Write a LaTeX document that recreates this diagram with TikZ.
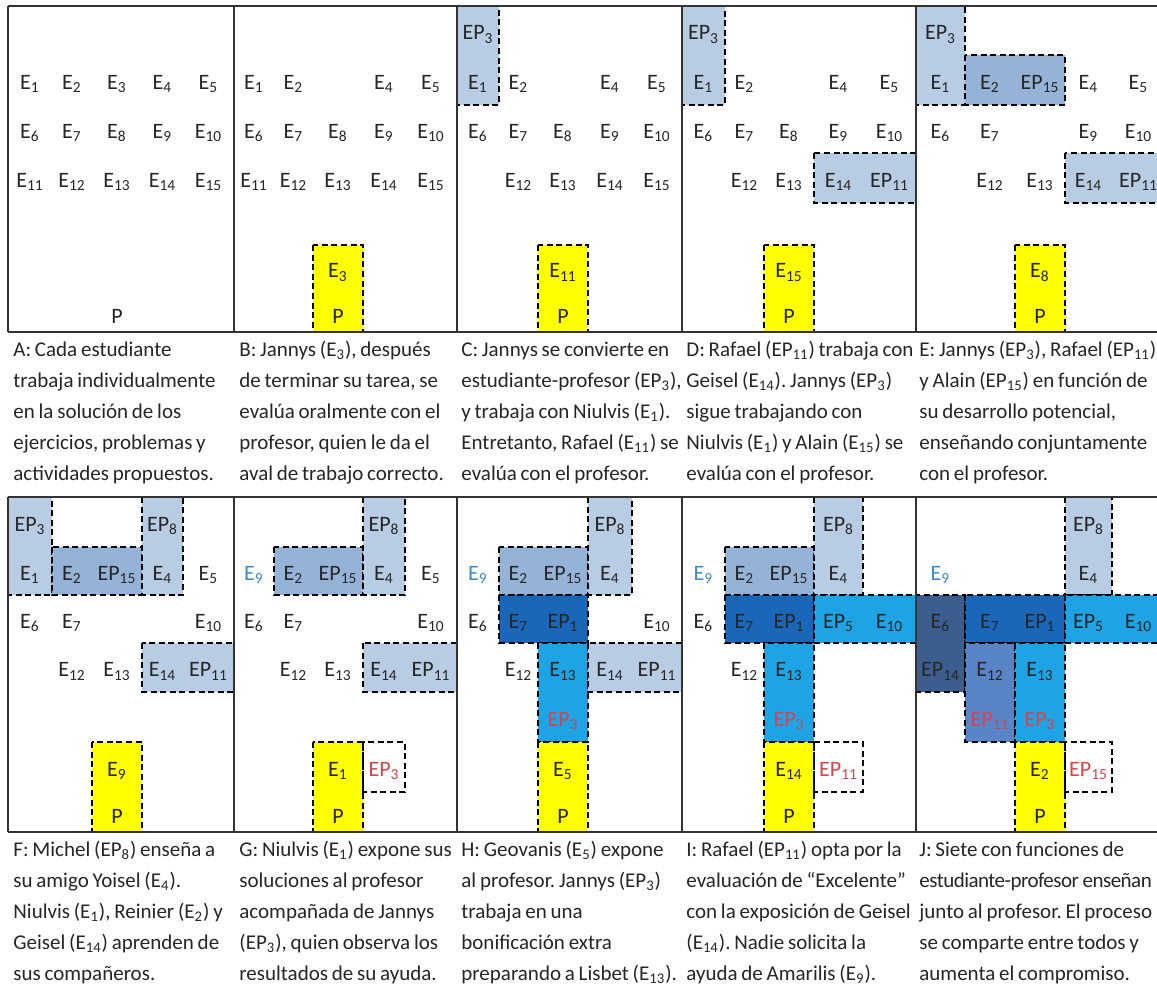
\documentclass[tikz,border=0pt]{standalone}
\usepackage{fontspec}
\setmainfont{Carlito}
\usetikzlibrary{calc}
\frenchspacing
\definecolor{txt}{HTML}{262626}
\definecolor{lbfill}{HTML}{B8CCE4}
\definecolor{mbfill}{HTML}{95B3D7}
\definecolor{dbfill}{HTML}{1A67BA}
\definecolor{skyfill}{HTML}{1EA4E4}
\definecolor{slfill}{HTML}{3B5E8E}
\definecolor{mdfill}{HTML}{5A84C8}
\definecolor{yfill}{HTML}{FFFF00}
\definecolor{redtxt}{HTML}{D9434B}
\definecolor{tealtxt}{HTML}{3E8DBF}
\definecolor{framecol}{HTML}{333333}
\newcommand\ssub[1]{\textsubscript{#1}}
\newcommand\lblfont{\fontsize{11}{13}\selectfont}
\newcommand\capfont{\fontsize{10.5}{15.5}\selectfont\spaceskip=0.18em plus 0.05em}
\newcommand\tight[1]{{\addfontfeature{LetterSpace=-2.5}#1}}
\newcommand\mkgrid[3]{%
  \foreach \x [count=\i from 0, remember=\x as \lx (initially 0)] in {#2} {
    \foreach \y [count=\j from 0, remember=\y as \ly (initially 0)] in {#3} {
      \coordinate (#1-\i-\j) at (\x,\y);
      \coordinate (#1c\i-\j) at ({(\x+\lx)/2},{(\y+\ly)/2});
    }
  }}
\newcommand\cellbox[6][]{\path[#1] (#2-#3-#4) rectangle (#2-#5-#6);}
\newcommand\plab[5][]{\node[lbl,#1] (#2l#3-#4) at (#2c#3-#4) {#5};}
\newcommand\erow[3]{\foreach \c [evaluate=\c as \n using int(\c+#3-1)] in {1,...,5} {\plab{#1}{\c}{#2}{E\ssub{\n}}}}
\newcommand\capblock[4]{\foreach \t [count=\i from 0] in {#4} {\node[capt] (cap#1\i) at (#2,{#3+31*\i}) {\t};}}

\begin{document}
\begin{tikzpicture}[x=0.5pt,y=-0.5pt,
  lbl/.style={font=\lblfont,text=txt,inner sep=0pt,yshift=-2pt},
  rd/.style={text=redtxt}, tl/.style={text=tealtxt},
  capt/.style={font=\capfont,text=txt,inner sep=0pt,anchor=base west},
  bxs/.style={draw=black,line width=0.75pt,dash pattern=on 3pt off 1.8pt},
  lbbox/.style={bxs,fill=lbfill}, mbbox/.style={bxs,fill=mbfill}, dbbox/.style={bxs,fill=dbfill},
  skybox/.style={bxs,fill=skyfill}, slbox/.style={bxs,fill=slfill}, mdbox/.style={bxs,fill=mdfill},
  ybox/.style={bxs,fill=yfill}, wbox/.style={bxs},
  frm/.style={draw=framecol,line width=1pt}]
\useasboundingbox (0,0) rectangle (1157,996);
\fill[white] (0,0) rectangle (1157,996);
\clip (0,0) rectangle (1157,996);

% grids
\mkgrid{A}{8,52,92,142,183,234}{6,55,105,153,203,245,292,332}
\mkgrid{B}{234,274,313,363,405,457}{6,55,105,153,203,245,292,332}
\mkgrid{C}{457,499,538,588,632,682}{6,55,105,153,203,245,292,332}
\mkgrid{D}{682,725,764,814,863,916}{6,55,105,153,203,245,292,332}
\mkgrid{E}{916,965,1015,1065,1112,1165}{6,55,105,153,203,245,292,332}
\mkgrid{F}{8,52,92,142,183,234}{497,547,595,643,692,742,792,832}
\mkgrid{G}{234,274,313,363,405,457}{497,547,595,643,692,742,792,832}
\mkgrid{H}{457,499,538,588,632,682}{497,547,595,643,692,742,792,832}
\mkgrid{I}{682,725,764,814,863,916}{497,547,595,643,692,742,792,832}
\mkgrid{J}{916,965,1015,1065,1112,1165}{497,547,595,643,692,742,792,832}

% Panel A
\erow{A}{2}{1}\erow{A}{3}{6}\erow{A}{4}{11}
\plab{A}{3}{7}{P}

% Panel B
\cellbox[ybox]{B}{2}{5}{3}{7}
\plab{B}{1}{2}{E\ssub{1}}\plab{B}{2}{2}{E\ssub{2}}\plab{B}{4}{2}{E\ssub{4}}\plab{B}{5}{2}{E\ssub{5}}
\erow{B}{3}{6}\erow{B}{4}{11}
\plab{B}{3}{6}{E\ssub{3}}\plab{B}{3}{7}{P}

% Panel C
\cellbox[lbbox]{C}{0}{0}{1}{2}
\cellbox[ybox]{C}{2}{5}{3}{7}
\plab{C}{1}{1}{EP\ssub{3}}\plab{C}{1}{2}{E\ssub{1}}
\plab{C}{2}{2}{E\ssub{2}}\plab{C}{4}{2}{E\ssub{4}}\plab{C}{5}{2}{E\ssub{5}}
\erow{C}{3}{6}
\plab{C}{2}{4}{E\ssub{12}}\plab{C}{3}{4}{E\ssub{13}}\plab{C}{4}{4}{E\ssub{14}}\plab{C}{5}{4}{E\ssub{15}}
\plab{C}{3}{6}{E\ssub{11}}\plab{C}{3}{7}{P}

% Panel D
\cellbox[lbbox]{D}{0}{0}{1}{2}
\cellbox[lbbox]{D}{3}{3}{5}{4}
\cellbox[ybox]{D}{2}{5}{3}{7}
\plab{D}{1}{1}{EP\ssub{3}}\plab{D}{1}{2}{E\ssub{1}}
\plab{D}{2}{2}{E\ssub{2}}\plab{D}{4}{2}{E\ssub{4}}\plab{D}{5}{2}{E\ssub{5}}
\erow{D}{3}{6}
\plab{D}{2}{4}{E\ssub{12}}\plab{D}{3}{4}{E\ssub{13}}\plab{D}{4}{4}{E\ssub{14}}\plab{D}{5}{4}{EP\ssub{11}}
\plab{D}{3}{6}{E\ssub{15}}\plab{D}{3}{7}{P}

% Panel E
\cellbox[lbbox]{E}{0}{0}{1}{2}
\cellbox[mbbox]{E}{1}{1}{3}{2}
\cellbox[lbbox]{E}{3}{3}{5}{4}
\cellbox[ybox]{E}{2}{5}{3}{7}
\plab{E}{1}{1}{EP\ssub{3}}\plab{E}{1}{2}{E\ssub{1}}
\plab{E}{2}{2}{E\ssub{2}}\plab{E}{3}{2}{EP\ssub{15}}\plab{E}{4}{2}{E\ssub{4}}\plab{E}{5}{2}{E\ssub{5}}
\plab{E}{1}{3}{E\ssub{6}}\plab{E}{2}{3}{E\ssub{7}}\plab{E}{4}{3}{E\ssub{9}}\plab{E}{5}{3}{E\ssub{10}}
\plab{E}{2}{4}{E\ssub{12}}\plab{E}{3}{4}{E\ssub{13}}\plab{E}{4}{4}{E\ssub{14}}\plab{E}{5}{4}{EP\ssub{11}}
\plab{E}{3}{6}{E\ssub{8}}\plab{E}{3}{7}{P}

% Panel F
\cellbox[lbbox]{F}{0}{0}{1}{2}
\cellbox[mbbox]{F}{1}{1}{3}{2}
\cellbox[lbbox]{F}{3}{0}{4}{2}
\cellbox[lbbox]{F}{3}{3}{5}{4}
\cellbox[ybox]{F}{2}{5}{3}{7}
\plab{F}{1}{1}{EP\ssub{3}}\plab{F}{4}{1}{EP\ssub{8}}
\plab{F}{1}{2}{E\ssub{1}}\plab{F}{2}{2}{E\ssub{2}}\plab{F}{3}{2}{EP\ssub{15}}\plab{F}{4}{2}{E\ssub{4}}\plab{F}{5}{2}{E\ssub{5}}
\plab{F}{1}{3}{E\ssub{6}}\plab{F}{2}{3}{E\ssub{7}}\plab{F}{5}{3}{E\ssub{10}}
\plab{F}{2}{4}{E\ssub{12}}\plab{F}{3}{4}{E\ssub{13}}\plab{F}{4}{4}{E\ssub{14}}\plab{F}{5}{4}{EP\ssub{11}}
\plab{F}{3}{6}{E\ssub{9}}\plab{F}{3}{7}{P}

% Panel G
\cellbox[mbbox]{G}{1}{1}{3}{2}
\cellbox[lbbox]{G}{3}{0}{4}{2}
\cellbox[lbbox]{G}{3}{3}{5}{4}
\cellbox[ybox]{G}{2}{5}{3}{7}
\cellbox[wbox]{G}{3}{5}{4}{6}
\plab{G}{4}{1}{EP\ssub{8}}
\plab[tl]{G}{1}{2}{E\ssub{9}}\plab{G}{2}{2}{E\ssub{2}}\plab{G}{3}{2}{EP\ssub{15}}\plab{G}{4}{2}{E\ssub{4}}\plab{G}{5}{2}{E\ssub{5}}
\plab{G}{1}{3}{E\ssub{6}}\plab{G}{2}{3}{E\ssub{7}}\plab{G}{5}{3}{E\ssub{10}}
\plab{G}{2}{4}{E\ssub{12}}\plab{G}{3}{4}{E\ssub{13}}\plab{G}{4}{4}{E\ssub{14}}\plab{G}{5}{4}{EP\ssub{11}}
\plab{G}{3}{6}{E\ssub{1}}\plab[rd]{G}{4}{6}{EP\ssub{3}}\plab{G}{3}{7}{P}

% Panel H
\cellbox[mbbox]{H}{1}{1}{3}{2}
\cellbox[lbbox]{H}{3}{0}{4}{2}
\cellbox[dbbox]{H}{1}{2}{3}{3}
\cellbox[skybox]{H}{2}{3}{3}{5}
\cellbox[lbbox]{H}{3}{3}{5}{4}
\cellbox[ybox]{H}{2}{5}{3}{7}
\plab{H}{4}{1}{EP\ssub{8}}
\plab[tl]{H}{1}{2}{E\ssub{9}}\plab{H}{2}{2}{E\ssub{2}}\plab{H}{3}{2}{EP\ssub{15}}\plab{H}{4}{2}{E\ssub{4}}
\plab{H}{1}{3}{E\ssub{6}}\plab{H}{2}{3}{E\ssub{7}}\plab{H}{3}{3}{EP\ssub{1}}\plab{H}{5}{3}{E\ssub{10}}
\plab{H}{2}{4}{E\ssub{12}}\plab{H}{3}{4}{E\ssub{13}}\plab{H}{4}{4}{E\ssub{14}}\plab{H}{5}{4}{EP\ssub{11}}
\plab[rd]{H}{3}{5}{EP\ssub{3}}
\plab{H}{3}{6}{E\ssub{5}}\plab{H}{3}{7}{P}

% Panel I
\cellbox[mbbox]{I}{1}{1}{3}{2}
\cellbox[lbbox]{I}{3}{0}{4}{2}
\cellbox[dbbox]{I}{1}{2}{3}{3}
\cellbox[skybox]{I}{3}{2}{5}{3}
\cellbox[skybox]{I}{2}{3}{3}{5}
\cellbox[ybox]{I}{2}{5}{3}{7}
\cellbox[wbox]{I}{3}{5}{4}{6}
\plab{I}{4}{1}{EP\ssub{8}}
\plab[tl]{I}{1}{2}{E\ssub{9}}\plab{I}{2}{2}{E\ssub{2}}\plab{I}{3}{2}{EP\ssub{15}}\plab{I}{4}{2}{E\ssub{4}}
\plab{I}{1}{3}{E\ssub{6}}\plab{I}{2}{3}{E\ssub{7}}\plab{I}{3}{3}{EP\ssub{1}}\plab{I}{4}{3}{EP\ssub{5}}\plab{I}{5}{3}{E\ssub{10}}
\plab{I}{2}{4}{E\ssub{12}}\plab{I}{3}{4}{E\ssub{13}}
\plab[rd]{I}{3}{5}{EP\ssub{3}}
\plab{I}{3}{6}{E\ssub{14}}\plab[rd]{I}{4}{6}{EP\ssub{11}}\plab{I}{3}{7}{P}

% Panel J
\cellbox[lbbox]{J}{3}{0}{4}{2}
\cellbox[slbox]{J}{0}{2}{1}{4}
\cellbox[dbbox]{J}{1}{2}{3}{3}
\cellbox[skybox]{J}{3}{2}{5}{3}
\cellbox[mdbox]{J}{1}{3}{2}{5}
\cellbox[skybox]{J}{2}{3}{3}{5}
\cellbox[ybox]{J}{2}{5}{3}{7}
\cellbox[wbox]{J}{3}{5}{4}{6}
\plab{J}{4}{1}{EP\ssub{8}}
\plab[tl]{J}{1}{2}{E\ssub{9}}\plab{J}{4}{2}{E\ssub{4}}
\plab{J}{1}{3}{E\ssub{6}}\plab{J}{2}{3}{E\ssub{7}}\plab{J}{3}{3}{EP\ssub{1}}\plab{J}{4}{3}{EP\ssub{5}}\plab{J}{5}{3}{E\ssub{10}}
\plab{J}{1}{4}{EP\ssub{14}}\plab{J}{2}{4}{E\ssub{12}}\plab{J}{3}{4}{E\ssub{13}}
\plab[rd]{J}{2}{5}{EP\ssub{11}}\plab[rd]{J}{3}{5}{EP\ssub{3}}
\plab{J}{3}{6}{E\ssub{2}}\plab[rd]{J}{4}{6}{EP\ssub{15}}\plab{J}{3}{7}{P}

% frames
\draw[frm] (A-0-0) -- (E-5-0);
\draw[frm] (A-0-7) -- (E-5-7);
\draw[frm] (F-0-0) -- (J-5-0);
\draw[frm] (F-0-7) -- (J-5-7);
\foreach \p in {A,B,C,D,E,F,G,H,I,J} {\draw[frm] (\p-0-0) -- (\p-0-7);}

% captions
\capblock{A}{13}{356}{{A: Cada estudiante},{trabaja individualmente},{en la solución de los},{ejercicios, problemas y},{actividades propuestos.}}
\capblock{B}{239}{356}{{B: Jannys (E\ssub{3}), después},{de terminar su tarea, se},{evalúa oralmente con el},{profesor, quien le da el},{aval de trabajo correcto.}}
\capblock{C}{461}{356}{{C: Jannys se convierte en},{estudiante-profesor (EP\ssub{3}),},{y trabaja con Niulvis (E\ssub{1}).},{Entretanto, Rafael (E\ssub{11}) se},{evalúa con el profesor.}}
\capblock{D}{686}{356}{{D: Rafael (EP\ssub{11}) trabaja con},{Geisel (E\ssub{14}). Jannys (EP\ssub{3})},{sigue trabajando con},{Niulvis (E\ssub{1}) y Alain (E\ssub{15}) se},{evalúa con el profesor.}}
\capblock{E}{919}{356}{{E: Jannys (EP\ssub{3}), Rafael (EP\ssub{11})},{y Alain (EP\ssub{15}) en función de},{su desarrollo potencial,},{enseñando conjuntamente},{con el profesor.}}
\capblock{F}{13}{856}{{F: Michel (EP\ssub{8}) enseña a},{su amigo Yoisel (E\ssub{4}).},{Niulvis (E\ssub{1}), Reinier (E\ssub{2}) y},{Geisel (E\ssub{14}) aprenden de},{sus compañeros.}}
\capblock{G}{239}{856}{{G: Niulvis (E\ssub{1}) expone sus},{soluciones al profesor},{acompañada de Jannys},{(EP\ssub{3}), quien observa los},{resultados de su ayuda.}}
\capblock{H}{461}{856}{{H: Geovanis (E\ssub{5}) expone},{al profesor. Jannys (EP\ssub{3})},{trabaja en una},{bonificación extra},{preparando a Lisbet (E\ssub{13}).}}
\capblock{I}{686}{856}{{I: Rafael (EP\ssub{11}) opta por la},{evaluación de “Excelente”},{con la exposición de Geisel},{(E\ssub{14}). Nadie solicita la},{ayuda de Amarilis (E\ssub{9}).}}
\capblock{J}{919}{856}{{J: Siete con funciones de},{\tight{estudiante-profesor enseñan}},{junto al profesor. El proceso},{se comparte entre todos y},{aumenta el compromiso.}}
\end{tikzpicture}
\end{document}
